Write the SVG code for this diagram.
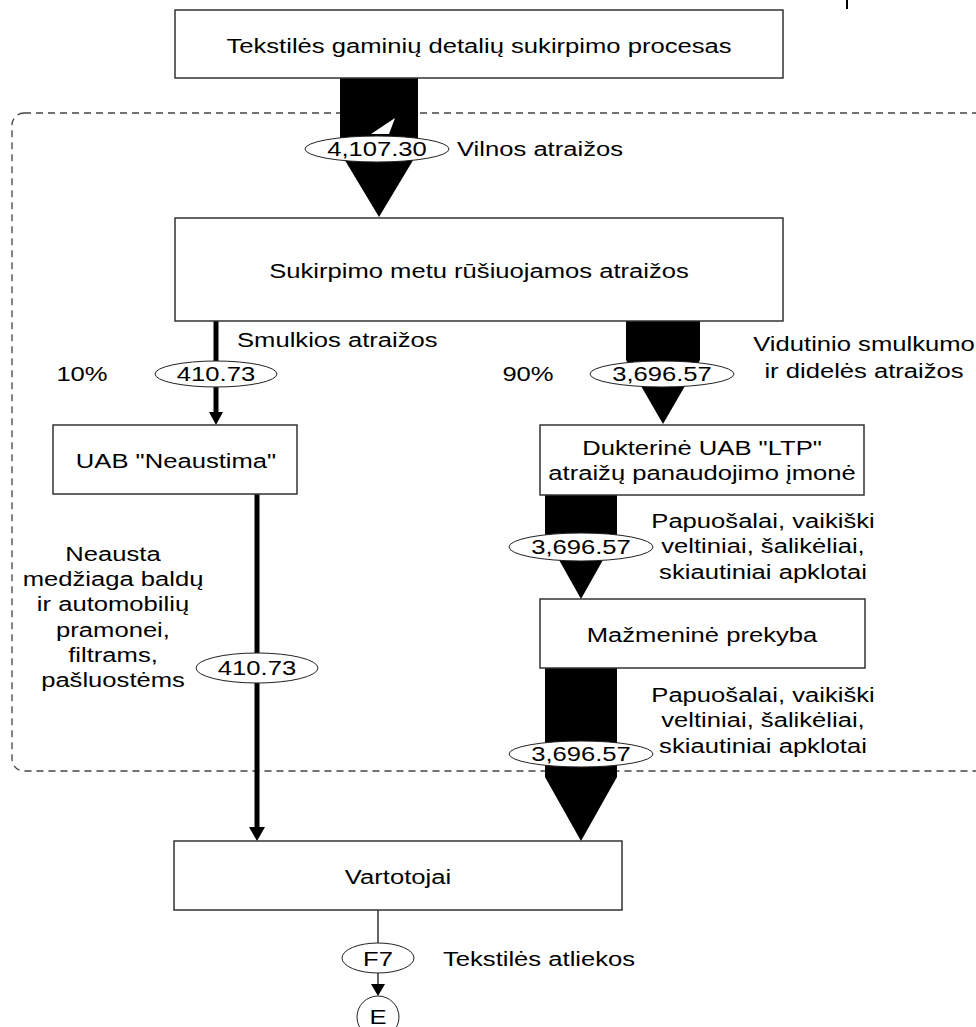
<svg xmlns="http://www.w3.org/2000/svg" width="976" height="1027" viewBox="0 0 976 1027">
  <style>
    .t { font-family: "Liberation Sans", Arial, sans-serif; font-size: 21px; fill: #000; }
    .m { text-anchor: middle; }
    .box { fill: #fff; stroke: #333; stroke-width: 1.5; }
    .oval { fill: #fff; stroke: #222; stroke-width: 1; }
    .fat { fill: #000; }
    .thin { stroke: #000; stroke-width: 5; fill: none; }
    .hair { stroke: #333; stroke-width: 1.5; fill: none; }
  </style>

  <rect width="976" height="1027" fill="#fff"/>

  <!-- small tick at the upper edge -->
  <line x1="847" y1="0" x2="847" y2="9" stroke="#000" stroke-width="2"/>

  <!-- dashed boundary of the processing area -->
  <rect id="boundary" x="12" y="113" width="1000" height="658" rx="12" fill="none" stroke="#444" stroke-width="1.3" stroke-dasharray="7,5"/>

  <!-- flows -->
  <g id="connectors">
    <polygon class="fat" points="340,78 418,78 418,152 379,217 340,152"/>
    <polygon fill="#fff" points="395,118 371,134 389,134"/>
    <polygon class="fat" points="626,321 700,321 700,360 663,424 626,360"/>
    <polygon class="fat" points="545,495 617,495 617,535 581,599 545,535"/>
    <polygon class="fat" points="545,668 617,668 617,777 581,841 545,777"/>
    <line class="thin" x1="216" y1="321" x2="216" y2="413"/>
    <polygon points="209,412 223,412 216,425" fill="#000"/>
    <line class="thin" x1="257" y1="494" x2="257" y2="828"/>
    <polygon points="249,827 265,827 257,841" fill="#000"/>
    <line class="hair" x1="378" y1="910" x2="378" y2="943"/>
    <line class="hair" x1="378" y1="973" x2="378" y2="985"/>
    <polygon points="371,984 385,984 378,996" fill="#000"/>
  </g>

  <!-- flow quantities and labels -->
  <g id="flow-labels">
    <ellipse class="oval" cx="377" cy="149" rx="72" ry="13"/>
    <text class="t m" transform="translate(377,156) scale(1.22,1)">4,107.30</text>
    <text class="t" transform="translate(457,156) scale(1.22,1)">Vilnos atraižos</text>

    <ellipse class="oval" cx="216" cy="374" rx="61" ry="13"/>
    <text class="t m" transform="translate(216,381) scale(1.22,1)">410.73</text>
    <text class="t" transform="translate(237,347) scale(1.22,1)">Smulkios atraižos</text>
    <text class="t m" transform="translate(82,381) scale(1.22,1)">10%</text>

    <ellipse class="oval" cx="662" cy="374" rx="72" ry="13"/>
    <text class="t m" transform="translate(662,381) scale(1.22,1)">3,696.57</text>
    <text class="t m" transform="translate(528,381) scale(1.22,1)">90%</text>
    <text class="t m" transform="translate(864,351) scale(1.22,1)">Vidutinio smulkumo<tspan x="0" dy="27">ir didelės atraižos</tspan></text>

    <ellipse class="oval" cx="581" cy="547" rx="72" ry="14"/>
    <text class="t m" transform="translate(581,554) scale(1.22,1)">3,696.57</text>
    <text class="t m" transform="translate(763,528) scale(1.22,1)">Papuošalai, vaikiški<tspan x="0" dy="25.5">veltiniai, šalikėliai,</tspan><tspan x="0" dy="25.5">skiautiniai apklotai</tspan></text>

    <ellipse class="oval" cx="581" cy="754" rx="72" ry="13"/>
    <text class="t m" transform="translate(581,761) scale(1.22,1)">3,696.57</text>
    <text class="t m" transform="translate(763,702) scale(1.22,1)">Papuošalai, vaikiški<tspan x="0" dy="25.5">veltiniai, šalikėliai,</tspan><tspan x="0" dy="25.5">skiautiniai apklotai</tspan></text>

    <ellipse class="oval" cx="257" cy="668" rx="61" ry="15"/>
    <text class="t m" transform="translate(257,675) scale(1.22,1)">410.73</text>
    <text class="t m" transform="translate(113,561) scale(1.22,1)">Neausta<tspan x="0" dy="25.2">medžiaga baldų</tspan><tspan x="0" dy="25.2">ir automobilių</tspan><tspan x="0" dy="25.2">pramonei,</tspan><tspan x="0" dy="25.2">filtrams,</tspan><tspan x="0" dy="25.2">pašluostėms</tspan></text>

    <ellipse class="oval" cx="378" cy="958" rx="36" ry="15"/>
    <text class="t m" transform="translate(378,966) scale(1.22,1)">F7</text>
    <text class="t" transform="translate(443,966) scale(1.22,1)">Tekstilės atliekos</text>
  </g>

  <!-- process nodes -->
  <g id="cutting-process">
    <rect class="box" x="175" y="10" width="608" height="68"/>
    <text class="t m" transform="translate(479,53) scale(1.22,1)">Tekstilės gaminių detalių sukirpimo procesas</text>
  </g>

  <g id="sorting">
    <rect class="box" x="175" y="218" width="608" height="103"/>
    <text class="t m" transform="translate(479,278) scale(1.22,1)">Sukirpimo metu rūšiuojamos atraižos</text>
  </g>

  <g id="neaustima">
    <rect class="box" x="53" y="425" width="244" height="69"/>
    <text class="t m" transform="translate(176,468) scale(1.22,1)">UAB "Neaustima"</text>
  </g>

  <g id="ltp">
    <rect class="box" x="540" y="425" width="324" height="70"/>
    <text class="t m" transform="translate(702,455) scale(1.22,1)">Dukterinė UAB "LTP"<tspan x="0" dy="25.5">atraižų panaudojimo įmonė</tspan></text>
  </g>

  <g id="retail">
    <rect class="box" x="540" y="599" width="325" height="69"/>
    <text class="t m" transform="translate(702,642) scale(1.22,1)">Mažmeninė prekyba</text>
  </g>

  <g id="consumers">
    <rect class="box" x="174" y="841" width="448" height="69"/>
    <text class="t m" transform="translate(398,884) scale(1.22,1)">Vartotojai</text>
  </g>

  <g id="end">
    <circle cx="378" cy="1017" r="21" fill="#fff" stroke="#222" stroke-width="1"/>
    <text class="t m" transform="translate(378,1024) scale(1.22,1)">E</text>
  </g>
</svg>
